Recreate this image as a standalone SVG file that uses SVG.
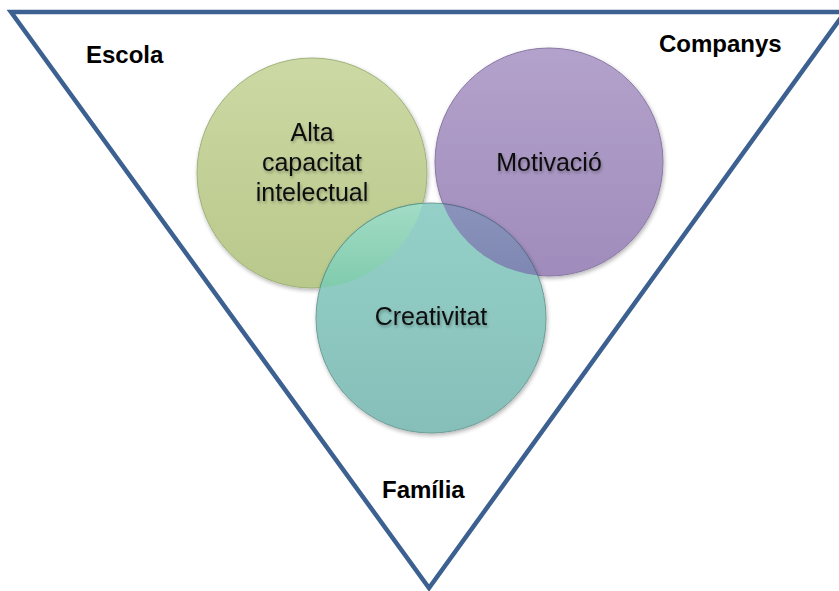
<svg xmlns="http://www.w3.org/2000/svg" width="839" height="591" viewBox="0 0 839 591">
<style>
.lbl{font-family:"Liberation Sans",Arial,sans-serif;font-weight:bold;font-size:24px;fill:#000}
.ctext{font-family:"Liberation Sans",Arial,sans-serif;font-size:25px;fill:#111;text-anchor:middle;filter:url(#tsh)}
.circ{stroke-width:1}
</style>
<defs>
<linearGradient id="gGreen" x1="0" y1="0" x2="0" y2="1">
<stop offset="0" stop-color="#ccd9a4"/><stop offset="1" stop-color="#b9c88b"/>
</linearGradient>
<linearGradient id="gPurple" x1="0" y1="0" x2="0" y2="1">
<stop offset="0" stop-color="#b3a2cb"/><stop offset="1" stop-color="#a08cbc"/>
</linearGradient>
<linearGradient id="gTeal" x1="0" y1="0" x2="0" y2="1">
<stop offset="0" stop-color="#94d0c8"/><stop offset="1" stop-color="#86bfb9"/>
</linearGradient>
<linearGradient id="gOvG" x1="0" y1="0" x2="0" y2="1">
<stop offset="0" stop-color="#a2dcc6"/><stop offset="0.35" stop-color="#82ccae"/><stop offset="1" stop-color="#78c1a4"/>
</linearGradient>
<linearGradient id="gOvP" x1="0" y1="0" x2="0" y2="1">
<stop offset="0" stop-color="#8a93bb"/><stop offset="0.3" stop-color="#7f88b2"/><stop offset="1" stop-color="#7880ab"/>
</linearGradient>
<clipPath id="clipGreen"><circle cx="312" cy="173" r="115"/></clipPath>
<clipPath id="clipPurple"><circle cx="549" cy="162" r="114"/></clipPath>
<filter id="sh" x="-20%" y="-20%" width="140%" height="140%">
<feGaussianBlur in="SourceAlpha" stdDeviation="2"/>
<feOffset dx="1" dy="2"/>
<feComponentTransfer><feFuncA type="linear" slope="0.3"/></feComponentTransfer>
<feMerge><feMergeNode/><feMergeNode in="SourceGraphic"/></feMerge>
</filter>
<filter id="tsh" x="-10%" y="-30%" width="120%" height="160%">
<feGaussianBlur in="SourceAlpha" stdDeviation="1.5"/>
<feOffset dx="1" dy="2"/>
<feComponentTransfer><feFuncA type="linear" slope="0.3"/></feComponentTransfer>
<feMerge><feMergeNode/><feMergeNode in="SourceGraphic"/></feMerge>
</filter>
</defs>
<rect width="839" height="591" fill="#fff"/>
<g id="frame">
<polygon points="11,12 845,12 429,588" fill="none" stroke="#3c6191" stroke-width="4.5" stroke-linejoin="miter"/>
</g>
<g id="context-labels">
<text class="lbl" x="86" y="63">Escola</text>
<text class="lbl" x="659" y="52">Companys</text>
<text class="lbl" x="382" y="498">Família</text>
</g>
<g id="connectors"></g>
<g id="node-alta">
<circle class="circ" cx="312" cy="173" r="115" fill="url(#gGreen)" stroke="#9fb27a" filter="url(#sh)"/>
<text class="ctext" x="312" y="141">Alta</text>
<text class="ctext" x="312" y="171">capacitat</text>
<text class="ctext" x="312" y="201">intelectual</text>
</g>
<g id="node-motivacio">
<circle class="circ" cx="549" cy="162" r="114" fill="url(#gPurple)" stroke="#8a78a6" filter="url(#sh)"/>
<text class="ctext" x="549" y="171">Motivació</text>
</g>
<g id="node-creativitat">
<circle class="circ" cx="431" cy="318" r="115" fill="url(#gTeal)" stroke="#6f9e98" filter="url(#sh)"/>
<g clip-path="url(#clipGreen)">
<circle cx="431" cy="318" r="115" fill="url(#gOvG)" stroke="#5f9a86" stroke-width="1"/>
</g>
<g clip-path="url(#clipPurple)">
<circle cx="431" cy="318" r="115" fill="url(#gOvP)" stroke="#5f6690" stroke-width="1"/>
</g>
<text class="ctext" x="431" y="325">Creativitat</text>
</g>
</svg>
